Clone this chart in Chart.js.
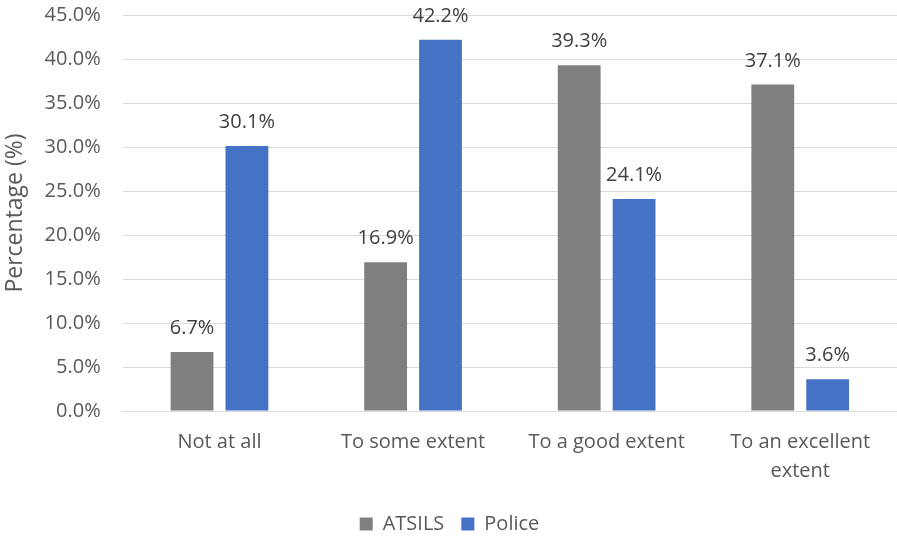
<!DOCTYPE html>
<html>
<head>
<meta charset="utf-8">
<script src="https://cdn.jsdelivr.net/npm/chart.js@4"></script>
<style>
  html, body { margin: 0; padding: 0; background: #fff; }
  canvas { display: block; }
</style>
</head>
<body>
<canvas id="barChart" width="897" height="536"></canvas>
<script>
// Chart data
const categories = ['Not at all', 'To some extent', 'To a good extent', ['To an excellent', 'extent']];
const atsilsValues = [6.7, 16.9, 39.3, 37.1];
const policeValues = [30.1, 42.2, 24.1, 3.6];
const yTicks = [0, 5, 10, 15, 20, 25, 30, 35, 40, 45];

const textFont = "'Open Sans', 'Liberation Sans', sans-serif";

// Draw the value labels above each bar
const barLabels = {
    id: 'barLabels',
    afterDatasetsDraw(chart) {
        const ctx = chart.ctx;
        ctx.save();
        ctx.font = '20px ' + textFont;
        ctx.fillStyle = '#404040';
        ctx.textAlign = 'center';
        ctx.textBaseline = 'alphabetic';
        chart.data.datasets.forEach((ds, i) => {
            chart.getDatasetMeta(i).data.forEach((bar, j) => {
                ctx.fillText(ds.data[j].toFixed(1) + '%', bar.x, bar.y - 18);
            });
        });
        ctx.restore();
    }
};

new Chart(document.getElementById('barChart').getContext('2d'), {
    type: 'bar',
    data: {
        labels: categories,
        datasets: [
            { label: 'ATSILS', data: atsilsValues, backgroundColor: '#7f7f7f' },
            { label: 'Police', data: policeValues, backgroundColor: '#4472c4' }
        ]
    },
    options: {
        responsive: false,
        animation: false,
        devicePixelRatio: 1,
        categoryPercentage: 0.567,
        barPercentage: 0.78,
        layout: { padding: { left: 2, right: 0, top: 15, bottom: -8 } },
        plugins: {
            legend: {
                position: 'bottom',
                labels: {
                    boxWidth: 13,
                    boxHeight: 13,
                    padding: 17,
                    color: '#595959',
                    font: { family: textFont, size: 20 }
                }
            },
            tooltip: { enabled: false }
        },
        scales: {
            x: {
                grid: { display: false },
                border: { color: '#d9d9d9', width: 1 },
                ticks: {
                    color: '#595959',
                    font: { family: textFont, size: 20, lineHeight: 1.45 },
                    padding: 9,
                    maxRotation: 0,
                    autoSkip: false
                },
                afterFit(scale) {
                    scale.height += 2;
                }
            },
            y: {
                min: 0,
                max: 45,
                afterBuildTicks(axis) {
                    axis.ticks = yTicks.map(v => ({ value: v }));
                },
                afterFit(scale) {
                    scale.width -= 22;
                    scale.paddingTop = 0;
                },
                grid: { color: '#d9d9d9', lineWidth: 1, drawTicks: false },
                border: { display: false },
                ticks: {
                    color: '#595959',
                    font: { family: textFont, size: 20 },
                    padding: 22,
                    callback: v => v.toFixed(1) + '%'
                },
                title: {
                    display: true,
                    text: 'Percentage (%)',
                    color: '#595959',
                    font: { family: textFont, size: 23 },
                    padding: { top: 0, bottom: 15 }
                }
            }
        }
    },
    plugins: [barLabels]
});
</script>
</body>
</html>
